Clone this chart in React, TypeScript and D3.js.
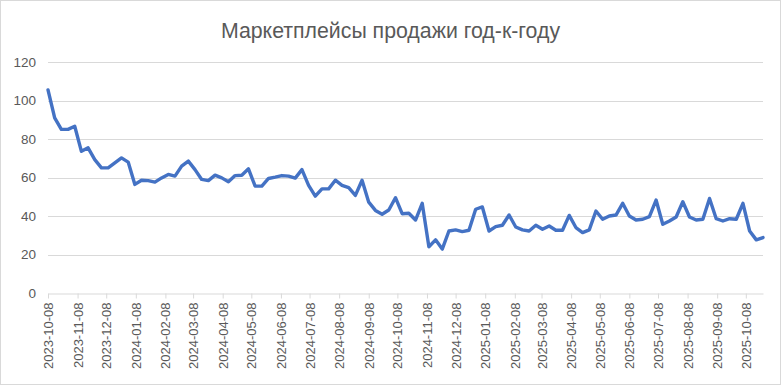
import React, { useEffect, useRef } from 'react';
import * as d3 from 'd3';

// weekly values, first week starts 2023-10-08
const startDate = Date.UTC(2023, 9, 8);
const values = [
  105.5, 91, 85, 85, 86.6, 73.6, 75.4, 69.3, 65, 65, 67.6, 70.2, 68, 56.4, 58.6, 58.4, 57.6, 59.8,
  61.6, 60.7, 65.9, 68.5, 64.1, 59, 58.4, 61.2, 59.8, 57.8, 61, 61.2, 64.5, 55.5, 55.5, 59.5, 60.2, 61,
  60.7, 59.7, 64.1, 55.9, 50.3, 54.1, 54.1, 58.6, 55.9, 54.7, 50.7, 58.6, 47.2, 42.9, 40.9, 43.1, 49.5, 41.2,
  41.4, 37.9, 46.6, 24, 27.6, 22.8, 32.2, 32.8, 31.9, 32.6, 43.5, 44.7, 32.2, 34.5, 35.2, 40.5, 34.3, 32.8,
  32.2, 35.2, 33.1, 34.8, 32.6, 32.6, 40.3, 34, 31.4, 32.8, 42.6, 38.3, 40, 40.5, 46.6, 40, 37.9, 38.3,
  39.7, 48.3, 35.7, 37.4, 39.5, 47.4, 39.5, 37.9, 38.3, 49.1, 38.6, 37.4, 38.6, 38.3, 46.6, 32.2, 27.6, 28.8
];

const tickLabels = [
  '2023-10-08', '2023-11-08', '2023-12-08', '2024-01-08', '2024-02-08', '2024-03-08', '2024-04-08',
  '2024-05-08', '2024-06-08', '2024-07-08', '2024-08-08', '2024-09-08', '2024-10-08', '2024-11-08',
  '2024-12-08', '2025-01-08', '2025-02-08', '2025-03-08', '2025-04-08', '2025-05-08', '2025-06-08',
  '2025-07-08', '2025-08-08', '2025-09-08', '2025-10-08'
];

const yTicks = [0, 20, 40, 60, 80, 100, 120];

const title = 'Маркетплейсы продажи год-к-году';

const App = () => {
  const container = useRef(null);

  useEffect(() => {
    const width = 781;
    const height = 385;
    const margins = { l: 48, r: 18, t: 62, b: 92 };

    const data = values.map((v, i) => ({
      date: new Date(startDate + i * 7 * 86400000),
      value: v
    }));

    const svg = d3.select(container.current);
    svg.selectAll('*').remove();

    svg
      .append('rect')
      .attr('x', 0.5)
      .attr('y', 0.5)
      .attr('width', width - 1)
      .attr('height', height - 1)
      .attr('fill', '#fff')
      .attr('stroke', '#d9d9d9');

    const xScale = d3
      .scaleUtc()
      .domain([data[0].date, data[data.length - 1].date])
      .range([margins.l, width - margins.r]);

    const yScale = d3
      .scaleLinear()
      .domain([0, 120])
      .range([height - margins.b, margins.t]);

    svg
      .append('text')
      .attr('x', width / 2)
      .attr('y', 38)
      .attr('text-anchor', 'middle')
      .attr('font-family', 'Liberation Sans, Arial, sans-serif')
      .attr('font-size', 21.3)
      .attr('fill', '#595959')
      .text(title);

    // gridlines + y labels
    const yg = svg.append('g').attr('class', 'y-axis-g');
    yg.selectAll('line')
      .data(yTicks.filter(d => d > 0))
      .join('line')
      .attr('x1', margins.l)
      .attr('x2', width - margins.r)
      .attr('y1', d => Math.round(yScale(d)) + 0.5)
      .attr('y2', d => Math.round(yScale(d)) + 0.5)
      .attr('stroke', '#d9d9d9');
    yg.selectAll('text')
      .data(yTicks)
      .join('text')
      .attr('x', 36)
      .attr('y', d => yScale(d))
      .attr('dy', '0.35em')
      .attr('text-anchor', 'end')
      .attr('font-family', 'Liberation Sans, Arial, sans-serif')
      .attr('font-size', 13.5)
      .attr('fill', '#595959')
      .text(d => d);

    // x axis
    const parse = d3.utcParse('%Y-%m-%d');
    const tickDates = tickLabels.map(s => parse(s));
    const xAxis = d3
      .axisBottom(xScale)
      .tickValues(tickDates)
      .tickFormat(d3.utcFormat('%Y-%m-%d'))
      .tickSize(5)
      .tickSizeOuter(0);

    const xaxisg = svg
      .append('g')
      .attr('class', 'x-axis-g')
      .attr('transform', `translate(0, ${Math.round(yScale(0)) + 0.5})`)
      .call(xAxis);
    xaxisg.select('.domain').attr('stroke', '#d9d9d9');
    xaxisg.selectAll('.tick line').attr('stroke', '#d9d9d9');
    xaxisg
      .selectAll('.tick text')
      .attr('font-family', 'Liberation Sans, Arial, sans-serif')
      .attr('font-size', 13)
      .attr('fill', '#595959')
      .attr('transform', 'rotate(-90)')
      .attr('text-anchor', 'end')
      .attr('x', -9)
      .attr('y', 0)
      .attr('dy', '0.35em');

    const line = d3
      .line()
      .x(d => xScale(d.date))
      .y(d => yScale(d.value));

    svg
      .append('path')
      .datum(data)
      .attr('fill', 'none')
      .attr('stroke', '#4472c4')
      .attr('stroke-width', 3.4)
      .attr('stroke-linejoin', 'round')
      .attr('stroke-linecap', 'round')
      .attr('d', line);
  }, []);

  return (
    <svg
      ref={container}
      width={781}
      height={385}
      style={{ position: 'absolute', left: 0, top: 0 }}
    ></svg>
  );
};

export default App;
